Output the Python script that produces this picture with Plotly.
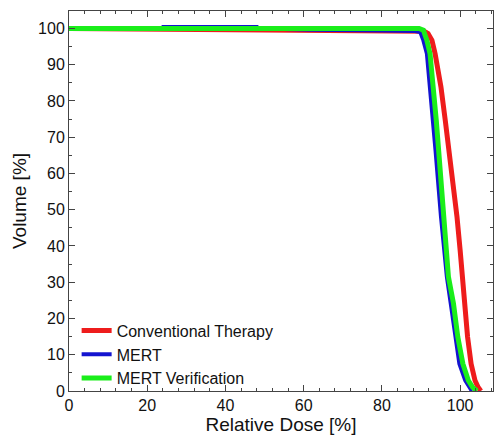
import plotly.graph_objects as go

conv_dose = [0, 62, 80, 89, 90.8, 91.8, 92.8, 93.6, 95.1, 96.2, 97.2, 98.1, 99.2, 100.0, 100.6, 101.1, 101.9, 102.8, 103.8, 104.6, 105.3]
conv_vol = [100, 99.6, 99.5, 99.4, 99.2, 98.6, 96.7, 93.0, 83.8, 74.6, 66.4, 57.2, 48.0, 38.8, 31.5, 24.1, 14.9, 7.5, 2.9, 1.0, 0]

mert_dose = [0, 24, 24.1, 48, 48.1, 62, 80, 88.5, 89.8, 90.6, 91.5, 92.3, 93.0, 93.7, 95.1, 96.6, 97.6, 98.7, 99.8, 101.3, 102.2, 103]
mert_vol = [100, 100, 100.4, 100.4, 100, 99.6, 99.4, 99.3, 99.0, 96.7, 93.0, 83.8, 74.6, 66.4, 48.0, 31.5, 24.1, 14.9, 7.5, 2.9, 1.2, 0]

ver_dose = [0, 89.5, 90.6, 91.5, 92.3, 93.2, 93.9, 94.5, 95.7, 97.0, 98.3, 99.4, 100.7, 102.1, 103.2, 104.3]
ver_vol = [100, 100, 99.5, 96.7, 93.0, 83.8, 74.6, 66.4, 48.0, 31.5, 24.1, 14.9, 7.5, 2.9, 1.0, 0]

FONT = "Arial, Liberation Sans, sans-serif"

fig = go.Figure()
fig.add_trace(go.Scatter(x=conv_dose, y=conv_vol, mode="lines", name="Conventional Therapy",
                         line=dict(color="#ee1c1c", width=5)))
fig.add_trace(go.Scatter(x=mert_dose, y=mert_vol, mode="lines", name="MERT",
                         line=dict(color="#1414d0", width=4)))
fig.add_trace(go.Scatter(x=ver_dose, y=ver_vol, mode="lines", name="MERT Verification",
                         line=dict(color="#1aee1a", width=5)))

axis_common = dict(showgrid=False, zeroline=False, showline=True, linecolor="#444444", linewidth=1,
                   mirror="ticks", ticks="inside", tickcolor="#444444", ticklen=6,
                   tickfont=dict(family=FONT, size=16, color="#111111"))

fig.update_xaxes(range=[0, 108.4], dtick=20, tick0=0,
                 minor=dict(dtick=4, ticks="inside", ticklen=3, tickcolor="#444444"),
                 title=dict(text="Relative Dose [%]", font=dict(family=FONT, size=19, color="#111111"), standoff=2),
                 **axis_common)
fig.update_yaxes(range=[0, 104.8], dtick=10, tick0=0,
                 minor=dict(dtick=5, ticks="inside", ticklen=3, tickcolor="#444444"),
                 title=dict(text="Volume [%]", font=dict(family=FONT, size=19, color="#111111"), standoff=6),
                 **axis_common)

fig.update_layout(
    width=494, height=437,
    margin=dict(l=69, r=1, t=11, b=46),
    plot_bgcolor="white", paper_bgcolor="white",
    legend=dict(x=0.018, y=-0.012, xanchor="left", yanchor="bottom", bgcolor="rgba(0,0,0,0)",
                font=dict(family=FONT, size=16, color="#111111"),
                itemwidth=30, tracegroupgap=0),
)

fig.write_html("out.html")
